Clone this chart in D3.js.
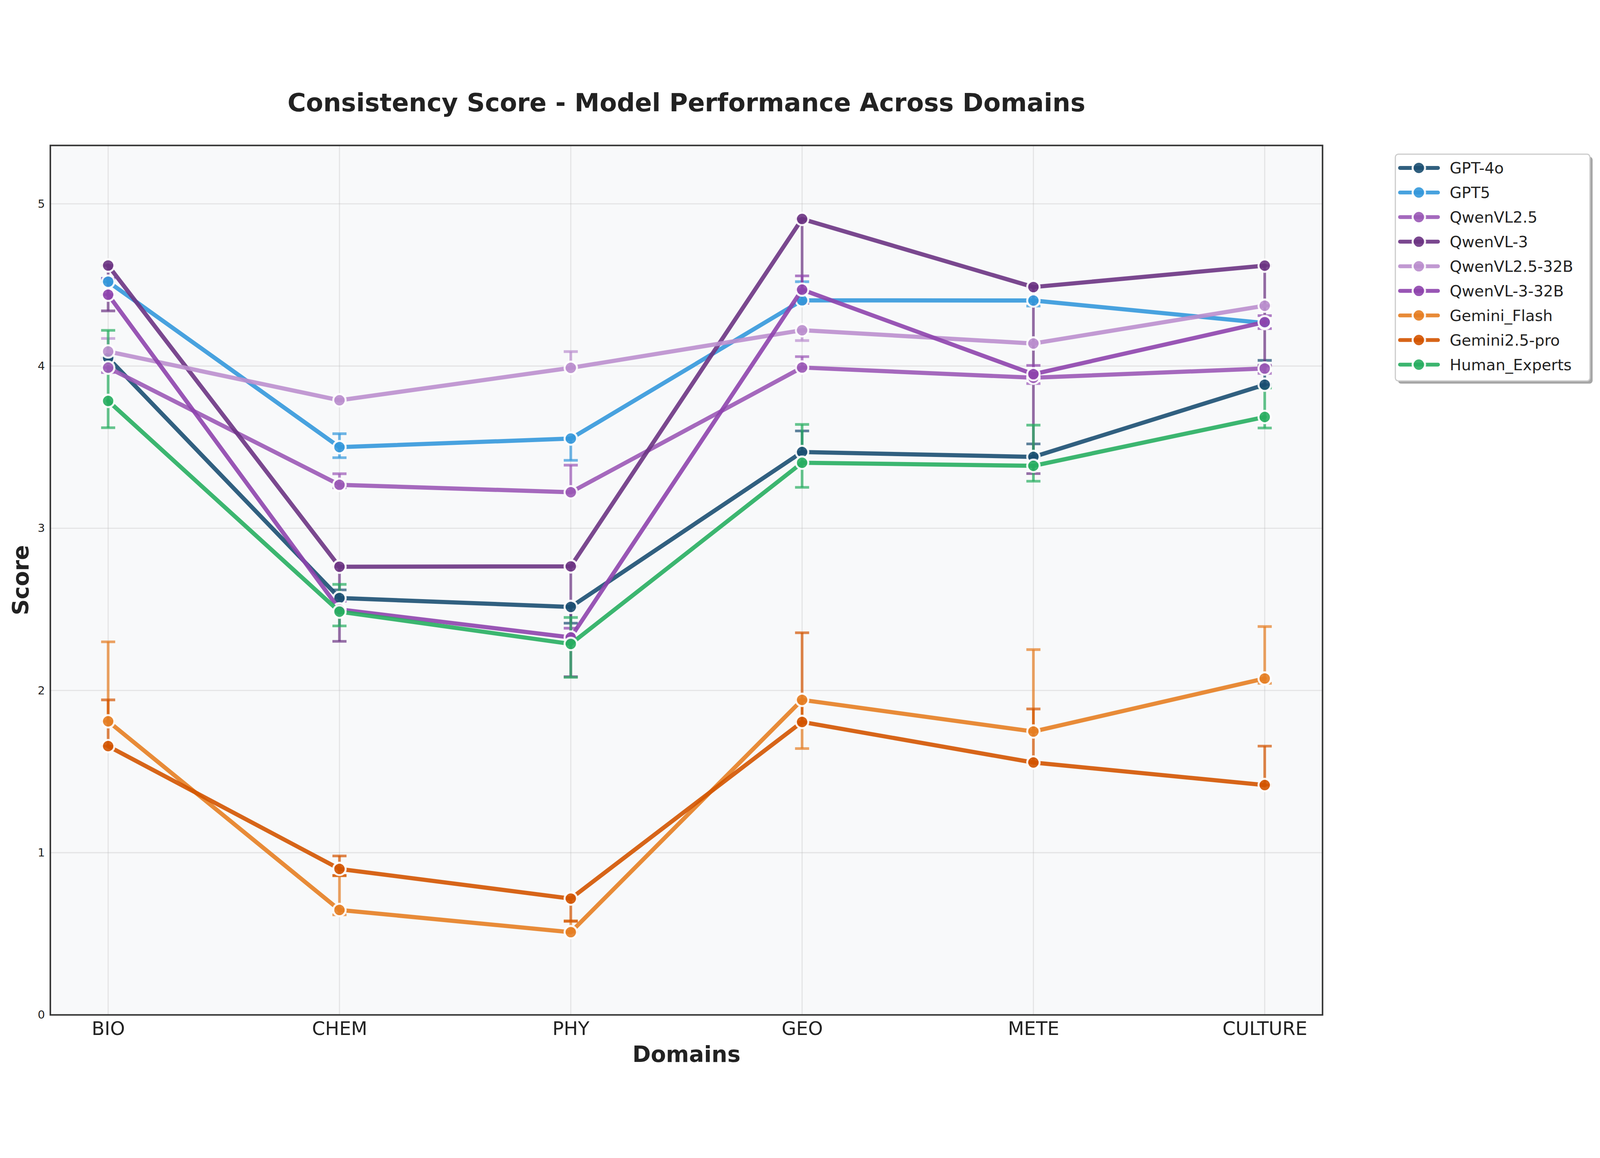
<!DOCTYPE html>
<html>
<head>
<meta charset="utf-8">
<script src="https://cdn.jsdelivr.net/npm/d3@7"></script>
<style>
  html, body { margin: 0; padding: 0; background: #fff; overflow: hidden; }
  svg { display: block; width: 100vw; height: 100vh; }
  text { font-family: "DejaVu Sans", sans-serif; fill: #222; }
</style>
</head>
<body>
<svg id="chart"></svg>
<script>
// domains on the x axis
const domains = ["BIO", "CHEM", "PHY", "GEO", "METE", "CULTURE"];
const yTicks = [0, 1, 2, 3, 4, 5];

// mean score per domain, and the error bar below / above each mean
const gpt4o      = [4.05, 2.57, 2.515, 3.47, 3.44, 3.885];
const gpt4oMinus = [0.0, 0.0, 0.10, 0.0, 0.0, 0.0];
const gpt4oPlus  = [0.0, 0.05, 0.0, 0.13, 0.08, 0.15];

const gpt5      = [4.52, 3.50, 3.553, 4.405, 4.404, 4.265];
const gpt5Minus = [0.0, 0.065, 0.134, 0.0, 0.034, 0.0];
const gpt5Plus  = [0.02, 0.083, 0.0, 0.115, 0.0, 0.0];

const qwen25      = [3.99, 3.268, 3.222, 3.991, 3.928, 3.985];
const qwen25Minus = [0.03, 0.018, 0.0, 0.0, 0.036, 0.03];
const qwen25Plus  = [0.0, 0.068, 0.167, 0.067, 0.0, 0.02];

const qwen3      = [4.62, 2.763, 2.765, 4.907, 4.487, 4.619];
const qwen3Minus = [0.28, 0.46, 0.68, 0.52, 1.15, 0.62];
const qwen3Plus  = [0.0, 0.0, 0.0, 0.0, 0.0, 0.0];

const qwen25_32b      = [4.09, 3.789, 3.989, 4.221, 4.139, 4.372];
const qwen25_32bMinus = [0.05, 0.0, 0.0, 0.064, 0.0, 0.0];
const qwen25_32bPlus  = [0.08, 0.0, 0.10, 0.0, 0.0, 0.0];

const qwen3_32b      = [4.44, 2.50, 2.327, 4.471, 3.95, 4.271];
const qwen3_32bMinus = [0.0, 0.0, 0.0, 0.0, 0.0, 0.04];
const qwen3_32bPlus  = [0.10, 0.05, 0.057, 0.085, 0.054, 0.04];

const geminiFlash      = [1.81, 0.647, 0.51, 1.942, 1.747, 2.074];
const geminiFlashMinus = [0.0, 0.03, 0.0, 0.30, 0.0, 0.03];
const geminiFlashPlus  = [0.49, 0.21, 0.07, 0.0, 0.505, 0.32];

const geminiPro      = [1.657, 0.90, 0.717, 1.806, 1.556, 1.417];
const geminiProMinus = [0.0, 0.04, 0.14, 0.0, 0.0, 0.0];
const geminiProPlus  = [0.285, 0.08, 0.0, 0.55, 0.33, 0.24];

const human      = [3.785, 2.486, 2.287, 3.404, 3.385, 3.686];
const humanMinus = [0.165, 0.088, 0.206, 0.152, 0.095, 0.068];
const humanPlus  = [0.435, 0.168, 0.163, 0.236, 0.251, 0.179];

const modelNames = ["GPT-4o", "GPT5", "QwenVL2.5", "QwenVL-3", "QwenVL2.5-32B",
                    "QwenVL-3-32B", "Gemini_Flash", "Gemini2.5-pro", "Human_Experts"];
const modelColors = ["#1B4F72", "#3498DB", "#9B59B6", "#6C3483", "#BB8FCE",
                     "#8E44AD", "#E67E22", "#D35400", "#27AE60"];

const series = [
  [gpt4o, gpt4oMinus, gpt4oPlus],
  [gpt5, gpt5Minus, gpt5Plus],
  [qwen25, qwen25Minus, qwen25Plus],
  [qwen3, qwen3Minus, qwen3Plus],
  [qwen25_32b, qwen25_32bMinus, qwen25_32bPlus],
  [qwen3_32b, qwen3_32bMinus, qwen3_32bPlus],
  [geminiFlash, geminiFlashMinus, geminiFlashPlus],
  [geminiPro, geminiProMinus, geminiProPlus],
  [human, humanMinus, humanPlus]
].map(([v, lo, hi], k) => ({
  name: modelNames[k],
  color: modelColors[k],
  points: v.map((d, i) => ({ i: i, v: d, lo: d - lo[i], hi: d + hi[i] }))
}));

const W = 4769, H = 2965;
const plotL = 150, plotR = 3942, plotT = 190, plotB = 2782;

const svg = d3.select("#chart")
  .attr("viewBox", `0 0 ${W} ${H}`)
  .attr("preserveAspectRatio", "xMidYMid meet");
svg.append("rect").attr("width", W).attr("height", H).attr("fill", "#fff");

const x = d3.scaleLinear().domain([-0.25, domains.length - 0.75]).range([plotL, plotR]);
const y = d3.scaleLinear().domain([0, 5.36]).range([plotB, plotT]);

// plot background
svg.append("rect")
  .attr("x", plotL).attr("y", plotT)
  .attr("width", plotR - plotL).attr("height", plotB - plotT)
  .attr("fill", "#f8f9fa");

// grid
const grid = svg.append("g").attr("stroke", "#b0b0b0").attr("stroke-opacity", 0.28).attr("stroke-width", 3.3);
grid.selectAll(".gy").data(yTicks).enter().append("line")
  .attr("x1", plotL).attr("x2", plotR)
  .attr("y1", d => y(d)).attr("y2", d => y(d));
grid.selectAll(".gx").data(d3.range(domains.length)).enter().append("line")
  .attr("y1", plotT).attr("y2", plotB)
  .attr("x1", d => x(d)).attr("x2", d => x(d));

// error bars (drawn below all lines)
const capHalf = 21;
series.forEach(s => {
  const g = svg.append("g").attr("stroke", s.color).attr("stroke-width", 8).attr("stroke-opacity", 0.7);
  g.selectAll(".bar").data(s.points).enter().append("line")
    .attr("x1", d => x(d.i)).attr("x2", d => x(d.i))
    .attr("y1", d => y(d.lo)).attr("y2", d => y(d.hi));
  g.selectAll(".capLo").data(s.points).enter().append("line")
    .attr("x1", d => x(d.i) - capHalf).attr("x2", d => x(d.i) + capHalf)
    .attr("y1", d => y(d.lo)).attr("y2", d => y(d.lo));
  g.selectAll(".capHi").data(s.points).enter().append("line")
    .attr("x1", d => x(d.i) - capHalf).attr("x2", d => x(d.i) + capHalf)
    .attr("y1", d => y(d.hi)).attr("y2", d => y(d.hi));
});

// lines with markers
const line = d3.line().x(d => x(d.i)).y(d => y(d.v));
series.forEach(s => {
  svg.append("path")
    .datum(s.points)
    .attr("d", line)
    .attr("fill", "none")
    .attr("stroke", s.color)
    .attr("stroke-width", 12.5)
    .attr("stroke-linejoin", "round")
    .attr("stroke-linecap", "round")
    .attr("opacity", 0.9);
  svg.append("g").selectAll("circle").data(s.points).enter().append("circle")
    .attr("cx", d => x(d.i)).attr("cy", d => y(d.v))
    .attr("r", 18.5)
    .attr("fill", s.color)
    .attr("stroke", "#fff")
    .attr("stroke-width", 6)
    .attr("opacity", 0.9);
});

// frame
svg.append("rect")
  .attr("x", plotL).attr("y", plotT)
  .attr("width", plotR - plotL).attr("height", plotB - plotT)
  .attr("fill", "none").attr("stroke", "#333").attr("stroke-width", 4.5);

// axes
const yAxis = svg.append("g")
  .attr("transform", `translate(${plotL},0)`)
  .call(d3.axisLeft(y).tickValues(yTicks).tickFormat(d3.format("d")).tickSize(0).tickPadding(16));
yAxis.select(".domain").remove();
yAxis.selectAll("text").attr("font-size", 34).attr("fill", "#222").attr("font-family", "DejaVu Sans");

const xAxis = svg.append("g")
  .attr("transform", `translate(0,${plotB})`)
  .call(d3.axisBottom(x).tickValues(d3.range(domains.length)).tickFormat(i => domains[i]).tickSize(0).tickPadding(20));
xAxis.select(".domain").remove();
xAxis.selectAll("text").attr("font-size", 56).attr("fill", "#222").attr("font-family", "DejaVu Sans");

// labels
svg.append("text")
  .attr("x", (plotL + plotR) / 2).attr("y", 88)
  .attr("text-anchor", "middle")
  .attr("font-size", 75).attr("font-weight", "bold")
  .text("Consistency Score - Model Performance Across Domains");

svg.append("text")
  .attr("x", (plotL + plotR) / 2).attr("y", 2922)
  .attr("text-anchor", "middle")
  .attr("font-size", 66).attr("font-weight", "bold")
  .text("Domains");

svg.append("text")
  .attr("transform", `translate(85,${(plotT + plotB) / 2}) rotate(-90)`)
  .attr("text-anchor", "middle")
  .attr("font-size", 66).attr("font-weight", "bold")
  .text("Score");

// legend
const lg = svg.append("g").attr("transform", "translate(4159,216)");
lg.append("rect")
  .attr("x", 8).attr("y", 8).attr("width", 580).attr("height", 676).attr("rx", 9)
  .attr("fill", "#4d4d4d").attr("fill-opacity", 0.5);
lg.append("rect")
  .attr("width", 580).attr("height", 676).attr("rx", 9)
  .attr("fill", "#fff").attr("stroke", "#cccccc").attr("stroke-width", 3.5);

const rowH = 73.3;
const item = lg.selectAll(".item").data(series).enter().append("g")
  .attr("transform", (d, k) => `translate(0,${41 + k * rowH})`);
item.append("line")
  .attr("x1", 14).attr("x2", 127)
  .attr("stroke", d => d.color).attr("stroke-width", 11.5)
  .attr("stroke-linecap", "round").attr("opacity", 0.9);
item.append("circle")
  .attr("cx", 70).attr("r", 18.5)
  .attr("fill", d => d.color).attr("stroke", "#fff").attr("stroke-width", 6)
  .attr("opacity", 0.9);
item.append("text")
  .attr("x", 162).attr("dy", "0.36em")
  .attr("font-size", 46)
  .text(d => d.name);
</script>
</body>
</html>
